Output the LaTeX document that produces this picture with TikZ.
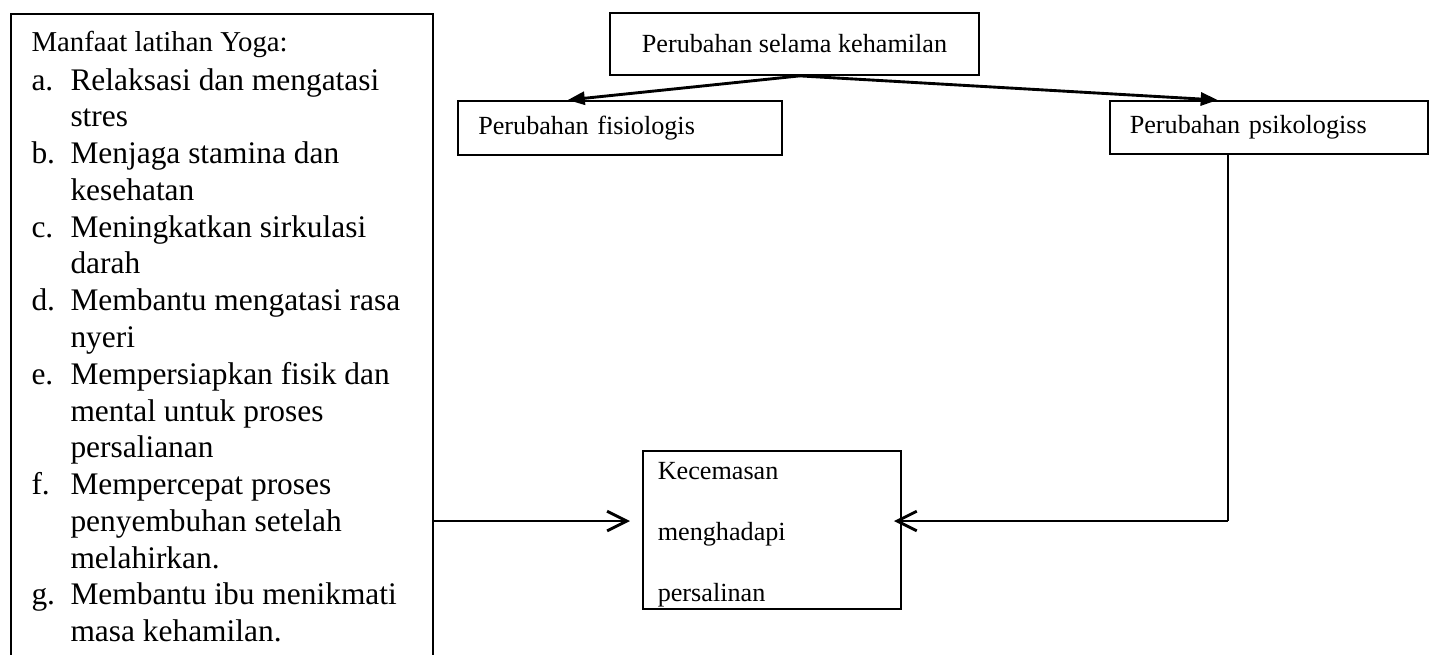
\documentclass[tikz,border=0pt]{standalone}
\usepackage{fontspec}
\setmainfont{Liberation Serif}
\usepackage{tikz}
\usetikzlibrary{arrows.meta, positioning, calc}

\begin{document}
\begin{tikzpicture}[
  x=0.382pt, y=-0.382pt,
  box/.style={draw, line width=0.65pt, inner sep=0pt, font=\fontsize{10}{12}\selectfont},
  leftbox/.style={box, anchor=north west, inner xsep=7.8pt, align=left},
  splitarrow/.style={-{Triangle[length=6.5pt,width=5pt]}, line width=1.1pt},
  feedarrow/.style={-{Straight Barb[length=7.5pt,width=7.5pt]}, line width=1.1pt}
]
  \useasboundingbox (0,0) rectangle (1429,654);

  % Manfaat latihan yoga (left)
  \node[draw, line width=0.65pt, anchor=north west, inner sep=0pt,
        minimum width=161.2pt, minimum height=251pt] (yoga) at (10,13) {};
  \node[anchor=base west, inner sep=0pt, font=\fontsize{11}{13}\selectfont] (yogahead) at (31,51.7)
    {Manfaat latihan Yoga:};
  \node[anchor=base west, inner sep=0pt, font=\fontsize{12}{14.05}\selectfont] (yogalist) at (31,90) {%
    \begin{tabular}[t]{@{}p{14.9pt}@{}l@{}}
      a. & Relaksasi dan mengatasi\\
         & stres\\
      b. & Menjaga stamina dan\\
         & kesehatan\\
      c. & Meningkatkan sirkulasi\\
         & darah\\
      d. & Membantu mengatasi rasa\\
         & nyeri\\
      e. & Mempersiapkan fisik dan\\
         & mental untuk proses\\
         & persalianan\\
      f. & Mempercepat proses\\
         & penyembuhan setelah\\
         & melahirkan.\\
      g. & Membantu ibu menikmati\\
         & masa kehamilan.
    \end{tabular}};

  % Perubahan (top)
  \node[box, minimum width=141pt, minimum height=23.7pt] (top) at (794.5,44)
    {Perubahan selama kehamilan};
  \node[leftbox, text width=108.2pt, minimum height=20.6pt] (fisio) at (457,100)
    {Perubahan fisiologis};
  \node[leftbox, inner xsep=7.6pt, text width=106.3pt, minimum height=20.2pt] (psiko) at (1109,100)
    {Perubahan psikologiss};

  % Kecemasan
  \node[box, anchor=north west, inner xsep=5.7pt, text width=87.2pt, minimum height=60.4pt,
        align=left, font=\fontsize{10}{23.3}\selectfont] (kec) at (642,450)
    {\rule{0pt}{10pt}Kecemasan\\menghadapi\\persalinan};

  % Arrows
  \draw[splitarrow] ([xshift=2pt]top.south) -- ($(fisio.north west)!0.34!(fisio.north east)$);
  \draw[splitarrow] ([xshift=2pt]top.south) -- ($(psiko.north west)!0.34!(psiko.north east)$);
  \coordinate (lvl) at (0,521);
  \coordinate (drop) at ($(psiko.south west)!0.371!(psiko.south east)$);
  \draw[line width=0.75pt] (drop) -- (drop |- lvl);
  \draw[feedarrow, shorten >=-3pt] (drop |- lvl) -- (kec.east |- lvl);
  \draw[feedarrow, shorten >=4.6pt] (yoga.east |- lvl) -- (kec.west |- lvl);
\end{tikzpicture}
\end{document}
